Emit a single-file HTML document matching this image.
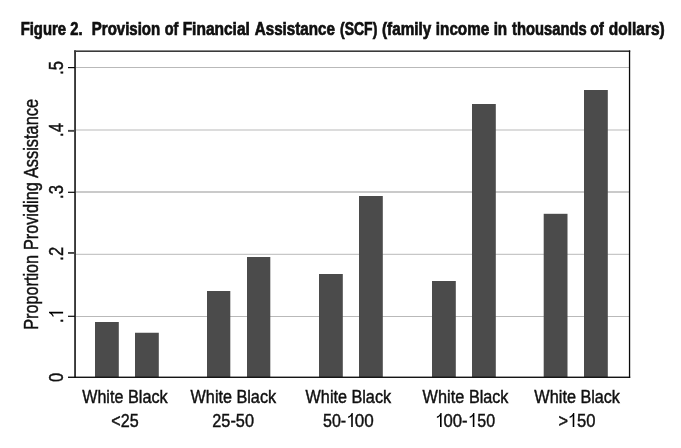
<!DOCTYPE html>
<html><head><meta charset="utf-8"><title>Figure 2</title>
<style>
html,body{margin:0;padding:0;background:#fff;}
body{width:681px;height:448px;overflow:hidden;}
svg{display:block;will-change:transform;filter:grayscale(1);}
text{font-family:"Liberation Sans",sans-serif;fill:#111;}
.t{font-weight:bold;font-size:17.5px;fill:#0a0a0a;stroke:#0a0a0a;stroke-width:0.65px;}
.x{font-size:18.9px;stroke:#111;stroke-width:0.45px;}
.y{font-size:19.5px;stroke:#111;stroke-width:0.45px;}
</style></head>
<body>
<svg width="681" height="448" viewBox="0 0 681 448">
<rect x="0" y="0" width="681" height="448" fill="#ffffff"/>
<g id="grid" stroke="#b9b9b9" fill="none">
<line x1="76" y1="67.5" x2="629" y2="67.5" stroke-width="1"/>
<line x1="76" y1="130.0" x2="629" y2="130.0" stroke-width="1"/>
<line x1="76" y1="192.0" x2="629" y2="192.0" stroke-width="1.5"/>
<line x1="76" y1="254.3" x2="629" y2="254.3" stroke-width="1"/>
<line x1="76" y1="316.5" x2="629" y2="316.5" stroke-width="1"/>
</g>
<g id="bars" fill="#4b4b4b">
<rect x="95" y="322" width="23.8" height="55"/>
<rect x="135" y="332.75" width="23.8" height="44.25"/>
<rect x="207" y="291" width="23.3" height="86"/>
<rect x="247" y="257" width="23.3" height="120"/>
<rect x="319" y="274" width="23.8" height="103"/>
<rect x="359" y="196" width="23.8" height="181"/>
<rect x="432" y="281" width="23.8" height="96"/>
<rect x="472" y="104" width="23.8" height="273"/>
<rect x="543.7" y="213.8" width="23.8" height="163.2"/>
<rect x="584" y="90" width="23.8" height="287"/>
</g>
<g id="frame" fill="#0a0a0a">
<rect x="74.1" y="50.4" width="1.9" height="327.4" fill="#383838"/>
<rect x="74.1" y="50.4" width="556.1" height="1.6" fill="#3a3a3a"/>
<rect x="628.9" y="50.4" width="1.3" height="327.5"/>
<rect x="68" y="376.6" width="562.2" height="1.35"/>
<rect x="68" y="67" width="7" height="1.2" fill="#0a0a0a"/>
<rect x="68" y="129.9" width="7" height="1.9" fill="#454545"/>
<rect x="68" y="191.7" width="7" height="1.2" fill="#0a0a0a"/>
<rect x="68" y="252" width="7" height="1.9" fill="#454545"/>
<rect x="68" y="315.7" width="7" height="1.2" fill="#0a0a0a"/>
</g>
<g id="title" class="txt t">
<text x="20.67" y="34.9" textLength="45.43" lengthAdjust="spacingAndGlyphs">Figure</text>
<text x="70.22" y="34.9" textLength="12.30" lengthAdjust="spacingAndGlyphs">2.</text>
<text x="91.82" y="34.9" textLength="68.36" lengthAdjust="spacingAndGlyphs">Provision</text>
<text x="164.75" y="34.9" textLength="13.65" lengthAdjust="spacingAndGlyphs">of</text>
<text x="182.64" y="34.9" textLength="67.22" lengthAdjust="spacingAndGlyphs">Financial</text>
<text x="254.74" y="34.9" textLength="80.20" lengthAdjust="spacingAndGlyphs">Assistance</text>
<text x="340.02" y="34.9" textLength="37.30" lengthAdjust="spacingAndGlyphs">(SCF)</text>
<text x="382.03" y="34.9" textLength="49.18" lengthAdjust="spacingAndGlyphs">(family</text>
<text x="435.82" y="34.9" textLength="53.47" lengthAdjust="spacingAndGlyphs">income</text>
<text x="493.64" y="34.9" textLength="13.55" lengthAdjust="spacingAndGlyphs">in</text>
<text x="512.10" y="34.9" textLength="74.52" lengthAdjust="spacingAndGlyphs">thousands</text>
<text x="590.37" y="34.9" textLength="13.53" lengthAdjust="spacingAndGlyphs">of</text>
<text x="608.86" y="34.9" textLength="55.80" lengthAdjust="spacingAndGlyphs">dollars)</text>
</g>
<g id="xl" class="txt x">
<text x="82.28" y="402.8" textLength="41.05" lengthAdjust="spacingAndGlyphs">White</text>
<text x="127.91" y="402.8" textLength="39.81" lengthAdjust="spacingAndGlyphs">Black</text>
<text x="190.60" y="402.8" textLength="41.39" lengthAdjust="spacingAndGlyphs">White</text>
<text x="236.41" y="402.8" textLength="39.79" lengthAdjust="spacingAndGlyphs">Black</text>
<text x="305.60" y="402.8" textLength="41.39" lengthAdjust="spacingAndGlyphs">White</text>
<text x="351.41" y="402.8" textLength="39.79" lengthAdjust="spacingAndGlyphs">Black</text>
<text x="422.60" y="402.8" textLength="41.64" lengthAdjust="spacingAndGlyphs">White</text>
<text x="468.91" y="402.8" textLength="39.54" lengthAdjust="spacingAndGlyphs">Black</text>
<text x="534.35" y="402.8" textLength="41.64" lengthAdjust="spacingAndGlyphs">White</text>
<text x="580.41" y="402.8" textLength="39.54" lengthAdjust="spacingAndGlyphs">Black</text>
<text x="111.35" y="427.0" textLength="27.31" lengthAdjust="spacingAndGlyphs">&lt;25</text>
<text x="212.32" y="427.0" textLength="41.66" lengthAdjust="spacingAndGlyphs">25-50</text>
<text x="323.01" y="427.0" textLength="23.15" lengthAdjust="spacingAndGlyphs">50-</text>
<text x="354.87" y="427.0" textLength="18.95" lengthAdjust="spacingAndGlyphs">00</text>
<text x="443.51" y="427.0" textLength="24.15" lengthAdjust="spacingAndGlyphs">00-</text>
<text x="477.35" y="427.0" textLength="17.80" lengthAdjust="spacingAndGlyphs">50</text>
<text x="558.51" y="427.0" textLength="9.50" lengthAdjust="spacingAndGlyphs">&gt;</text>
<text x="577.01" y="427.0" textLength="18.47" lengthAdjust="spacingAndGlyphs">50</text>
<path transform="translate(351.2 427.1)" d="M0 0L1.6 0L1.6 -14.1L0.45 -14.1C0.2 -12.9 -1.2 -11.1 -3.1 -10.5L-3.1 -9.2C-1.8 -9.6 -0.7 -10.3 0 -11.2Z" stroke="none"/>
<path transform="translate(440.0 427.1)" d="M0 0L1.6 0L1.6 -14.1L0.45 -14.1C0.2 -12.9 -1.2 -11.1 -3.1 -10.5L-3.1 -9.2C-1.8 -9.6 -0.7 -10.3 0 -11.2Z" stroke="none"/>
<path transform="translate(472.8 427.1)" d="M0 0L1.6 0L1.6 -14.1L0.45 -14.1C0.2 -12.9 -1.2 -11.1 -3.1 -10.5L-3.1 -9.2C-1.8 -9.6 -0.7 -10.3 0 -11.2Z" stroke="none"/>
<path transform="translate(572.7 427.1)" d="M0 0L1.6 0L1.6 -14.1L0.45 -14.1C0.2 -12.9 -1.2 -11.1 -3.1 -10.5L-3.1 -9.2C-1.8 -9.6 -0.7 -10.3 0 -11.2Z" stroke="none"/>
</g>
<g id="yl" class="txt y">
<text transform="translate(38 329.74) rotate(-90)" x="0" y="0" textLength="74.79" lengthAdjust="spacingAndGlyphs">Proportion</text>
<text transform="translate(38 250.11) rotate(-90)" x="0" y="0" textLength="67.84" lengthAdjust="spacingAndGlyphs">Providing</text>
<text transform="translate(38 178.06) rotate(-90)" x="0" y="0" textLength="79.06" lengthAdjust="spacingAndGlyphs">Assistance</text>
</g>
<g id="tl" class="txt y">
<text transform="translate(63.2 74.80) rotate(-90)" x="0" y="0" textLength="13.8" lengthAdjust="spacingAndGlyphs">.5</text>
<text transform="translate(63.2 136.90) rotate(-90)" x="0" y="0" textLength="13.8" lengthAdjust="spacingAndGlyphs">.4</text>
<text transform="translate(63.2 198.90) rotate(-90)" x="0" y="0" textLength="13.8" lengthAdjust="spacingAndGlyphs">.3</text>
<text transform="translate(63.2 260.70) rotate(-90)" x="0" y="0" textLength="13.8" lengthAdjust="spacingAndGlyphs">.2</text>
<text transform="translate(63.2 322.90) rotate(-90)" x="0" y="0" textLength="4.6" lengthAdjust="spacingAndGlyphs">.</text>
<path transform="translate(63.1 313.4) rotate(-90)" d="M0 0L1.6 0L1.6 -14.1L0.45 -14.1C0.2 -12.9 -1.2 -11.1 -3.1 -10.5L-3.1 -9.2C-1.8 -9.6 -0.7 -10.3 0 -11.2Z" stroke="none"/>
<text transform="translate(63.2 381.90) rotate(-90)" x="0" y="0" textLength="9.2" lengthAdjust="spacingAndGlyphs">0</text>
</g>
</svg>
</body></html>
